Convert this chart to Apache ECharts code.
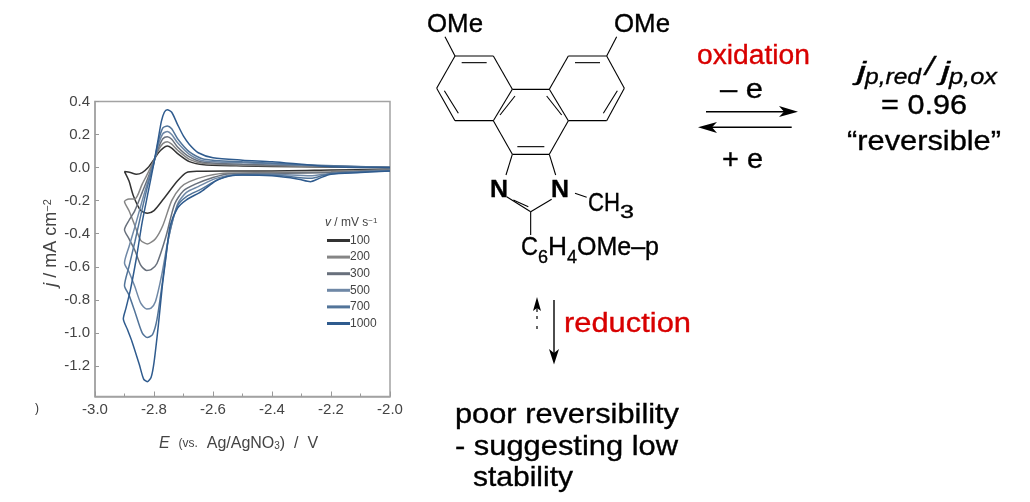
<!DOCTYPE html>
<html><head><meta charset="utf-8">
<script src="https://cdn.jsdelivr.net/npm/echarts@6/dist/echarts.min.js"></script>
<style>html,body{margin:0;padding:0;background:#fff}#c{width:1030px;height:502px;filter:blur(0.45px)}</style>
</head><body><div id="c"></div>
<script>
const scanRates = ['100','200','300','500','700','1000'];
const xTicks = [-3.0,-2.8,-2.6,-2.4,-2.2,-2.0];
const yTicks = [0.4,0.2,0,-0.2,-0.4,-0.6,-0.8,-1.0,-1.2];
const cv100 = [[-2,-0.01],[-2.2,-0.015],[-2.4,-0.02],[-2.55,-0.02],[-2.65,-0.022],[-2.69,-0.03],[-2.72,-0.08],[-2.77,-0.195],[-2.8,-0.26],[-2.822,-0.276],[-2.845,-0.26],[-2.87,-0.17],[-2.885,-0.08],[-2.9,-0.024],[-2.88,-0.03],[-2.86,-0.04],[-2.84,-0.03],[-2.82,0],[-2.8,0.05],[-2.785,0.09],[-2.768,0.12],[-2.755,0.13],[-2.74,0.118],[-2.72,0.085],[-2.68,0.036],[-2.63,0.017],[-2.5,0.01],[-2.3,0.005],[-2,0]];
const cv200 = [[-2,-0.012],[-2.2,-0.025],[-2.4,-0.03],[-2.55,-0.032],[-2.62,-0.05],[-2.68,-0.085],[-2.71,-0.12],[-2.74,-0.2],[-2.77,-0.35],[-2.795,-0.43],[-2.822,-0.462],[-2.845,-0.44],[-2.865,-0.35],[-2.885,-0.26],[-2.9,-0.205],[-2.885,-0.19],[-2.865,-0.19],[-2.84,-0.1],[-2.82,-0.03],[-2.8,0.045],[-2.785,0.105],[-2.77,0.145],[-2.755,0.157],[-2.74,0.142],[-2.72,0.105],[-2.68,0.05],[-2.63,0.025],[-2.5,0.015],[-2.3,0.008],[-2,0]];
const cv300 = [[-2,-0.015],[-2.2,-0.03],[-2.4,-0.035],[-2.55,-0.038],[-2.6,-0.06],[-2.66,-0.1],[-2.7,-0.14],[-2.73,-0.22],[-2.76,-0.42],[-2.79,-0.58],[-2.81,-0.618],[-2.825,-0.622],[-2.845,-0.59],[-2.865,-0.5],[-2.885,-0.43],[-2.9,-0.376],[-2.885,-0.32],[-2.865,-0.26],[-2.84,-0.15],[-2.82,-0.06],[-2.8,0.04],[-2.785,0.12],[-2.77,0.175],[-2.755,0.187],[-2.74,0.172],[-2.72,0.125],[-2.68,0.065],[-2.63,0.032],[-2.5,0.02],[-2.3,0.012],[-2,0]];
const cv500 = [[-2,-0.018],[-2.2,-0.035],[-2.27,-0.05],[-2.4,-0.04],[-2.52,-0.042],[-2.59,-0.065],[-2.65,-0.115],[-2.69,-0.15],[-2.72,-0.22],[-2.75,-0.42],[-2.775,-0.66],[-2.795,-0.81],[-2.81,-0.85],[-2.825,-0.855],[-2.845,-0.82],[-2.865,-0.72],[-2.885,-0.63],[-2.9,-0.577],[-2.885,-0.48],[-2.865,-0.36],[-2.84,-0.2],[-2.82,-0.08],[-2.8,0.035],[-2.785,0.14],[-2.77,0.205],[-2.755,0.218],[-2.74,0.2],[-2.72,0.15],[-2.68,0.08],[-2.63,0.04],[-2.5,0.03],[-2.3,0.015],[-2,0]];
const cv700 = [[-2,-0.02],[-2.2,-0.035],[-2.27,-0.065],[-2.4,-0.045],[-2.52,-0.045],[-2.58,-0.07],[-2.64,-0.13],[-2.69,-0.175],[-2.72,-0.23],[-2.75,-0.42],[-2.772,-0.7],[-2.79,-0.92],[-2.805,-1.01],[-2.823,-1.028],[-2.84,-1.0],[-2.865,-0.87],[-2.885,-0.77],[-2.9,-0.715],[-2.885,-0.6],[-2.865,-0.45],[-2.84,-0.25],[-2.82,-0.1],[-2.8,0.03],[-2.785,0.16],[-2.77,0.24],[-2.755,0.252],[-2.74,0.235],[-2.72,0.175],[-2.68,0.095],[-2.63,0.05],[-2.5,0.035],[-2.3,0.018],[-2,0]];
const cv1000 = [[-2,-0.02],[-2.1,-0.03],[-2.2,-0.04],[-2.24,-0.065],[-2.27,-0.085],[-2.31,-0.07],[-2.4,-0.05],[-2.5,-0.045],[-2.54,-0.05],[-2.59,-0.08],[-2.64,-0.145],[-2.69,-0.195],[-2.72,-0.245],[-2.745,-0.35],[-2.76,-0.55],[-2.772,-0.72],[-2.785,-0.95],[-2.8,-1.18],[-2.81,-1.27],[-2.823,-1.295],[-2.835,-1.28],[-2.85,-1.19],[-2.875,-1.05],[-2.89,-0.98],[-2.904,-0.915],[-2.895,-0.85],[-2.88,-0.74],[-2.86,-0.55],[-2.84,-0.33],[-2.82,-0.15],[-2.8,0.03],[-2.785,0.18],[-2.775,0.28],[-2.765,0.335],[-2.755,0.35],[-2.74,0.335],[-2.72,0.26],[-2.7,0.19],[-2.68,0.14],[-2.65,0.09],[-2.6,0.06],[-2.5,0.045],[-2.4,0.035],[-2.3,0.02],[-2.2,0.005],[-2.1,0],[-2,0]];
const curves = [cv100,cv200,cv300,cv500,cv700,cv1000];
const colors = ['#333333','#858585','#68707c','#6f88a6','#527499','#2f5b8e'];

const F = '"Liberation Sans", Arial, sans-serif';
const mc = document.createElement('canvas').getContext('2d');
function txt(s,x0,x1,cy,size,opt){opt=opt||{};
  const font=(opt.style||'')+' '+(opt.weight||'')+' '+size+'px '+F;
  mc.font=font; const sx=(x1-x0)/mc.measureText(s).width;
  const fill=opt.fill||'#000';
  return {type:'text',x:x0,y:cy,scaleX:sx,silent:true,z:10,style:{text:s,font:font,fill:fill,stroke:fill,lineWidth:0.35,textAlign:'left',textVerticalAlign:'middle'}};
}
function ln(a,b,c,d,w,col){return {type:'line',silent:true,z:9,shape:{x1:a,y1:b,x2:c,y2:d},style:{stroke:col||'#000',lineWidth:w||1}};}
const mx=z=>410+z/3, my=z=>z/3;
function zl(a,b,c,d,w){return ln(mx(a),my(b),mx(c),my(d),w||1);}
function poly(pts){return {type:'polygon',silent:true,z:9,shape:{points:pts},style:{fill:'#000'}};}

const bonds=[[105,110,135,168],[135,168,250,168],[250,168,307,268],[307,268,250,362],[250,362,135,362],[135,362,80,265],[80,265,135,168],
[155,188,230,188],[103,272,145,340],[307,268,418,268],[418,268,475,362],[475,362,418,463],[418,463,307,463],[307,463,250,362],[315,288,270,345],[410,288,455,345],[322,440,403,440],
[418,268,475,168],[475,168,590,168],[590,168,643,265],[643,265,590,362],[590,362,475,362],[495,188,570,188],[622,272,580,340],[590,168,620,110],
[307,463,288,525],[418,463,437,525],[290,590,362,635],[310,600,355,620],[362,635,425,598],[362,635,362,705],[495,580,530,592]];

const graphics=[
 ...bonds.map(b=>zl(b[0],b[1],b[2],b[3],1.1)),
 txt('OMe',427,483,25,25), txt('OMe',614,670,25,25),
 txt('N',490,508,190,24,{weight:'bold'}), txt('N',551,569,190,24,{weight:'bold'}),
 txt('CH',588,620,204,26), txt('3',620,634,213,18),
 txt('C',521,538,248,26), txt('6',538,548,258,18), txt('H',548,567,248,26), txt('4',567,577,258,18), txt('OMe–p',577,659,248,26),
 txt('oxidation',697,810,57,27,{fill:'#d80000'}),
 txt('– e',720,763,90,28), txt('+ e',722,763,160,28),
 ln(706,111.7,790,111.7,1.4), poly([[798,111.7],[779,106],[784,111.7],[779,117]]),
 ln(791.7,127.3,705,127.3,1.4), poly([[698,127.3],[717,122],[712,127.3],[717,133]]),
 txt('j',857,866,73,26,{style:'italic'}), txt('p,red',865,921,78,22,{style:'italic'}), txt('/',925,934,68,26,{style:'italic'}),
 txt('j',941,950,73,26,{style:'italic'}), txt('p,ox',949,997,78,22,{style:'italic'}),
 txt('= 0.96',881,967,106,28), txt('“reversible”',847,1001,142,28),
 ln(554,300,554,355,1.4), poly([[554,364.5],[549,349],[554,353],[559,349]]),
 ln(537,329,537,326,1.2), ln(537,319,537,316,1.2), ln(537,312,537,304,1.2), poly([[537,297],[533,311],[537,308],[541,311]]),
 txt('reduction',564,691,325,27,{fill:'#d80000'}),
 txt('poor reversibility',455,679,415,28), txt('- suggesting low',455,678,447,28), txt('stability',473,573,478,28),
 {type:'rect',silent:true,z:20,shape:{x:404,y:400,width:12,height:20},style:{fill:'#fff'}},
 {type:'text',x:35,y:409,silent:true,style:{text:')',font:'12px '+F,fill:'#333',textVerticalAlign:'middle'}},
 {type:'text',x:325,y:223,silent:true,style:{text:'{i|v} / mV s{s|−1}',fill:'#444',font:'12px '+F,textVerticalAlign:'middle',rich:{i:{fontStyle:'italic',fontSize:12,fontFamily:F,fill:'#444'},s:{fontSize:8,verticalAlign:'top',fontFamily:F,fill:'#444'}}}}
];

const chart=echarts.init(document.getElementById('c'),null,{renderer:'canvas'});
chart.setOption({
 animation:false, backgroundColor:'#fff',
 grid:{left:95,top:101.5,width:295,height:295,show:true,borderColor:'#a3a3a3',borderWidth:1.5,backgroundColor:'transparent'},
 legend:{show:true,orient:'vertical',left:322,top:228.5,itemWidth:23,itemHeight:3,itemGap:2.6,
   textStyle:{fontSize:12,color:'#444',fontFamily:F,lineHeight:14,height:14,padding:[0,0,0,-5]},
   data:scanRates.map(n=>({name:n,icon:'rect'}))},
 xAxis:{type:'value',min:-3,max:-2,interval:0.2,
   name:'{i|E}  {sm|(vs.}  Ag/AgNO{s|3})  /  V',nameLocation:'middle',nameGap:39,
   nameTextStyle:{color:'#444',fontFamily:F,fontSize:16,padding:[0,8,0,0],rich:{i:{fontStyle:'italic',fontSize:16,color:'#444'},sm:{fontSize:12,color:'#444'},s:{fontSize:10,verticalAlign:'bottom',color:'#444'}}},
   axisLine:{show:true,onZero:false,lineStyle:{color:'#a3a3a3',width:1.5}},
   axisTick:{show:true,inside:true,length:5,lineStyle:{color:'#999'}},
   minorTick:{show:true,splitNumber:2,length:3,lineStyle:{color:'#999'}},
   splitLine:{show:false},
   axisLabel:{color:'#444',fontFamily:F,fontSize:15,margin:6,showMinLabel:true,showMaxLabel:true,formatter:v=>v.toFixed(1)}},
 yAxis:{type:'value',min:-1.385,max:0.4,
   name:'{i|j} / mA cm{s|−2}',nameLocation:'middle',nameGap:33,nameRotate:90,
   nameTextStyle:{color:'#444',fontFamily:F,fontSize:18,padding:[0,0,0,12],rich:{i:{fontStyle:'italic',fontSize:18,color:'#444'},s:{fontSize:11,verticalAlign:'top',color:'#444'}}},
   axisLine:{show:true,onZero:false,lineStyle:{color:'#a3a3a3',width:1.5}},
   axisTick:{show:true,inside:true,length:4,customValues:yTicks,lineStyle:{color:'#999'}},
   splitLine:{show:false},
   axisLabel:{color:'#444',fontFamily:F,fontSize:15,margin:5,customValues:yTicks,formatter:v=>v.toFixed(1)}},
 series:curves.map((d,i)=>({name:scanRates[i],type:'line',data:d,showSymbol:false,symbol:'none',smooth:0.25,
   lineStyle:{color:colors[i],width:1.5},itemStyle:{color:colors[i]},z:2+i})),
 graphic:graphics
});
</script></body></html>
